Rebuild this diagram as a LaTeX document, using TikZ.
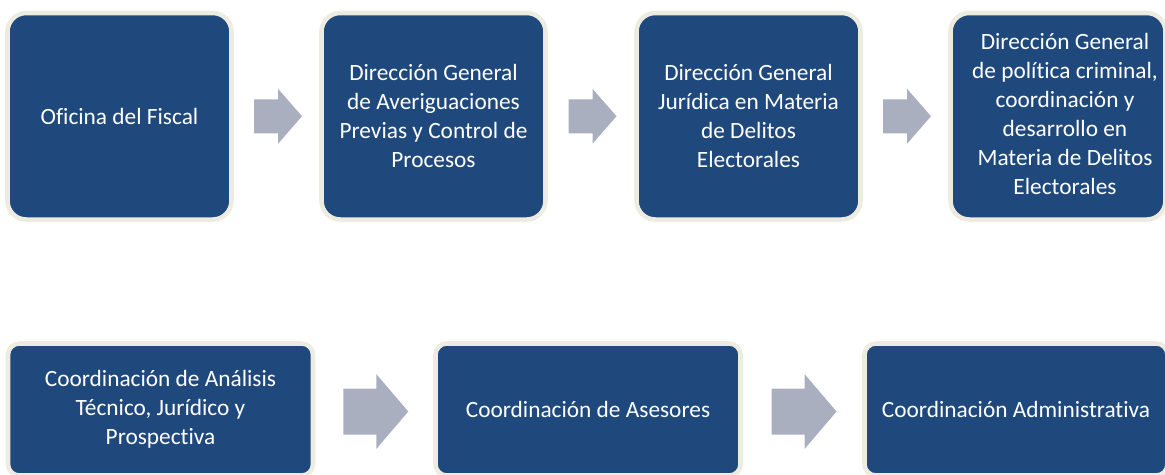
\documentclass[tikz,border=0pt]{standalone}
\usepackage{fontspec}
\setmainfont{Carlito}[Ligatures=NoCommon]
\usetikzlibrary{calc}
\definecolor{boxblue}{RGB}{31,73,125}
\definecolor{boxrim}{RGB}{238,236,225}
\definecolor{arrowgray}{RGB}{170,175,191}
\tikzset{
  topbox/.style={draw=boxrim, fill=boxblue, line width=3.4pt, rounded corners=14pt,
    minimum width=168pt, minimum height=154.9pt, text=white, align=center, inner sep=0pt,
    font=\fontsize{17.5}{21.75}\selectfont},
  botbox/.style={topbox, rounded corners=8.5pt, minimum width=228.75pt, minimum height=99pt},
  smallarrow/.pic={\fill[arrowgray] (-24,-17) -- (0,-17) -- (0,-27.5) -- (24,0) -- (0,27.5) -- (0,17) -- (-24,17) -- cycle;},
  bigarrow/.pic={\fill[arrowgray] (-32.5,-23) -- (0.5,-23) -- (0.5,-37.5) -- (32.5,0) -- (0.5,37.5) -- (0.5,23) -- (-32.5,23) -- cycle;}
}
\begin{document}
\begin{tikzpicture}[x=0.75pt,y=-0.75pt]
\useasboundingbox (0,0) rectangle (1165,475);
% top row
\node[topbox] (b1) at (119.5,116.25) {Oficina del Fiscal};
\node[topbox] (b2) at (433.5,116.25) {Dirección General\\de Averiguaciones\\Previas y Control de\\Procesos};
\node[topbox] (b3) at (748.5,116.25) {Dirección General\\Jurídica en Materia\\de Delitos\\Electorales};
\node[topbox, minimum width=161.25pt] (b4) at (1058,116.25) {\hspace*{10.5pt}\begin{tabular}{@{}c@{}}Dirección General\\de política criminal,\\coordinación y\\desarrollo en\\Materia de Delitos\\Electorales\end{tabular}};
% bottom row
\node[botbox] (b5) at (160.5,409.5) {Coordinación de Análisis\\Técnico, Jurídico y\\Prospectiva};
\node[botbox] (b6) at (588,409.5) {Coordinación de Asesores};
\node[botbox, minimum width=227.25pt] (b7) at (1016,409.5) {Coordinación Administrativa};
% arrows
\coordinate (m1) at ($($(b1.east)!0.5!(b2.west)$)+(1.5,0)$);
\coordinate (m2) at ($($(b2.east)!0.5!(b3.west)$)+(1.5,0)$);
\coordinate (m3) at ($($(b3.east)!0.5!(b4.west)$)+(1.5,0)$);
\coordinate (m4) at ($($(b5.east)!0.5!(b6.west)$)+(1.5,2)$);
\coordinate (m5) at ($($(b6.east)!0.5!(b7.west)$)+(1.5,2)$);
\pic at (m1) {smallarrow};
\pic at (m2) {smallarrow};
\pic at (m3) {smallarrow};
\pic at (m4) {bigarrow};
\pic at (m5) {bigarrow};
\end{tikzpicture}
\end{document}
